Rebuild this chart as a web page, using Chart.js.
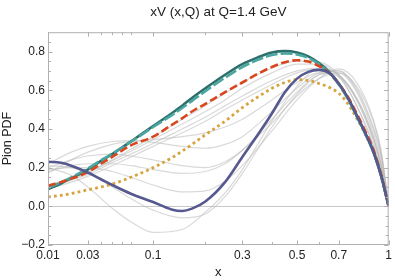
<!DOCTYPE html>
<html>
<head>
<meta charset="utf-8">
<script src="https://cdn.jsdelivr.net/npm/chart.js@4/dist/chart.umd.min.js"></script>
<style>
  body { margin: 0; background: #fff; }
</style>
</head>
<body>
<canvas id="myChart" width="395" height="280"></canvas>
<script>
// x grid for the highlighted curves
var mainX = [0.01, 0.015, 0.02, 0.03, 0.04, 0.05, 0.07, 0.1, 0.13, 0.15, 0.17, 0.2, 0.25, 0.3, 0.35,
             0.4, 0.45, 0.5, 0.55, 0.6, 0.65, 0.7, 0.75, 0.8, 0.85, 0.9, 0.95, 1];
var tealDark  = [0.088, 0.118, 0.145, 0.19, 0.235, 0.27, 0.335, 0.415, 0.48, 0.52, 0.56, 0.61, 0.68, 0.735, 0.77,
                 0.795, 0.802, 0.795, 0.775, 0.74, 0.695, 0.635, 0.56, 0.47, 0.38, 0.285, 0.16, 0];
var tealLight = [0.095, 0.124, 0.15, 0.195, 0.238, 0.272, 0.333, 0.41, 0.47, 0.508, 0.545, 0.595, 0.665, 0.72, 0.757,
                 0.782, 0.79, 0.785, 0.767, 0.735, 0.69, 0.63, 0.555, 0.465, 0.375, 0.28, 0.155, 0];
var redDash   = [0.106, 0.125, 0.143, 0.177, 0.22, 0.255, 0.315, 0.36, 0.42, 0.455, 0.49, 0.53, 0.59, 0.64, 0.685,
                 0.72, 0.745, 0.755, 0.748, 0.725, 0.69, 0.635, 0.565, 0.48, 0.39, 0.295, 0.165, 0];
var goldDot   = [0.048, 0.057, 0.066, 0.085, 0.1, 0.115, 0.15, 0.2, 0.25, 0.285, 0.32, 0.37, 0.44, 0.51, 0.565,
                 0.61, 0.64, 0.655, 0.65, 0.635, 0.615, 0.585, 0.53, 0.455, 0.375, 0.285, 0.16, 0];
var purple    = [0.23, 0.225, 0.21, 0.175, 0.14, 0.11, 0.065, 0.022, -0.016, -0.024, -0.012, 0.025, 0.125, 0.255, 0.37,
                 0.48, 0.59, 0.66, 0.695, 0.705, 0.69, 0.635, 0.56, 0.47, 0.38, 0.285, 0.16, 0];

// x grid for the grey replicas
var greyX = [0.01, 0.02, 0.03, 0.05, 0.07, 0.1, 0.15, 0.2, 0.25, 0.3, 0.4, 0.5, 0.6, 0.7, 0.8, 0.9, 0.95, 1];
var greys = [
    [0.20, 0.16, 0.10, -0.01, -0.08, -0.135, -0.12, -0.03, 0.07, 0.19, 0.44, 0.62, 0.71, 0.68, 0.55, 0.35, 0.21, 0],
    [0.21, 0.20, 0.17, 0.10, 0.04, -0.02, -0.06, -0.04, 0.05, 0.17, 0.41, 0.58, 0.68, 0.70, 0.60, 0.40, 0.26, 0],
    [0.19, 0.20, 0.20, 0.18, 0.15, 0.11, 0.075, 0.08, 0.13, 0.21, 0.39, 0.55, 0.66, 0.71, 0.64, 0.45, 0.29, 0],
    [0.18, 0.21, 0.22, 0.22, 0.21, 0.19, 0.17, 0.18, 0.22, 0.29, 0.45, 0.59, 0.68, 0.69, 0.59, 0.38, 0.24, 0],
    [0.20, 0.24, 0.26, 0.27, 0.26, 0.24, 0.21, 0.2, 0.23, 0.29, 0.43, 0.57, 0.66, 0.69, 0.62, 0.44, 0.28, 0],
    [0.22, 0.28, 0.31, 0.335, 0.34, 0.33, 0.31, 0.30, 0.32, 0.36, 0.49, 0.61, 0.69, 0.70, 0.61, 0.41, 0.27, 0],
    [0.17, 0.24, 0.28, 0.32, 0.335, 0.345, 0.36, 0.38, 0.41, 0.45, 0.55, 0.64, 0.69, 0.67, 0.56, 0.36, 0.22, 0],
    [0.10, 0.135, 0.165, 0.225, 0.27, 0.325, 0.40, 0.46, 0.52, 0.57, 0.65, 0.70, 0.715, 0.68, 0.55, 0.34, 0.2, 0],
    [0.09, 0.125, 0.155, 0.21, 0.255, 0.31, 0.38, 0.44, 0.50, 0.55, 0.63, 0.69, 0.71, 0.68, 0.56, 0.36, 0.21, 0],
    [0.11, 0.145, 0.175, 0.235, 0.285, 0.345, 0.425, 0.49, 0.55, 0.61, 0.69, 0.735, 0.735, 0.67, 0.52, 0.32, 0.18, 0],
    [0.10, 0.14, 0.175, 0.24, 0.295, 0.36, 0.45, 0.52, 0.585, 0.64, 0.715, 0.75, 0.745, 0.68, 0.52, 0.31, 0.18, 0]
];

var xTicks = [0.01, 0.03, 0.1, 0.3, 0.5, 0.7, 1];
var xTickLabels = ["0.01", "0.03", "0.1", "0.3", "0.5", "0.7", "1"];
var xMinor = [0.04, 0.05, 0.06, 0.07, 0.2, 0.4, 0.6];
var yTicks = [-0.2, 0, 0.2, 0.4, 0.6, 0.8];
var yMinor = [-0.15, -0.1, -0.05, 0.05, 0.1, 0.15, 0.25, 0.3, 0.35, 0.45, 0.5, 0.55, 0.65, 0.7, 0.75, 0.85];

var POW = 0.35;

// x axis that is stretched like x^0.35
class PowerScale extends Chart.LinearScale {
    getPixelForValue(v) {
        var a = Math.pow(this.min, POW), b = Math.pow(this.max, POW);
        return this.getPixelForDecimal((Math.pow(v, POW) - a) / (b - a));
    }
    getValueForPixel(p) {
        var a = Math.pow(this.min, POW), b = Math.pow(this.max, POW);
        return Math.pow(a + this.getDecimalForPixel(p) * (b - a), 1 / POW);
    }
}
PowerScale.id = "power";
PowerScale.defaults = {};
Chart.register(PowerScale);

function pts(xs, ys) {
    return xs.map(function (x, i) { return {x: x, y: ys[i]}; });
}

var datasets = [
    {data: pts(mainX, purple), borderColor: "#55598f", borderWidth: 2.6, order: 1},
    {data: pts(mainX, redDash), borderColor: "#d9461e", borderWidth: 2.6, borderDash: [8, 3.5], order: 2},
    {data: pts(mainX, tealLight), borderColor: "#4aa6a0", borderWidth: 2.6, borderDash: [12, 3], order: 3},
    {data: pts(mainX, tealDark), borderColor: "#2e6e6b", borderWidth: 2.6, order: 4},
    {data: pts(mainX, goldDot), borderColor: "#d6a33c", borderWidth: 2.8, borderDash: [2.8, 3.2], order: 5}
];
greys.forEach(function (g) {
    datasets.push({data: pts(greyX, g), borderColor: "rgba(185,185,185,0.55)", borderWidth: 1.2, order: 10});
});

var framePlugin = {
    id: "frame",
    afterDraw: function (chart) {
        var ctx = chart.ctx, a = chart.chartArea, x = chart.scales.x, y = chart.scales.y;
        ctx.save();
        ctx.strokeStyle = "#b0b0b0";
        ctx.lineWidth = 1;
        ctx.strokeRect(a.left + 0.5, a.top + 0.5, a.right - a.left - 1, a.bottom - a.top - 1);
        ctx.beginPath();
        function xt(v, len) {
            var p = Math.round(x.getPixelForValue(v)) + 0.5;
            ctx.moveTo(p, a.bottom); ctx.lineTo(p, a.bottom - len);
            ctx.moveTo(p, a.top); ctx.lineTo(p, a.top + len);
        }
        function yt(v, len) {
            var p = Math.round(y.getPixelForValue(v)) + 0.5;
            ctx.moveTo(a.left, p); ctx.lineTo(a.left + len, p);
            ctx.moveTo(a.right, p); ctx.lineTo(a.right - len, p);
        }
        xTicks.forEach(function (v) { xt(v, 4.5); });
        xMinor.forEach(function (v) { xt(v, 3); });
        yTicks.forEach(function (v) { yt(v, 4.5); });
        yMinor.forEach(function (v) { yt(v, 3); });
        ctx.stroke();
        ctx.restore();
    }
};

var font = "'Liberation Sans', Arial, sans-serif";

new Chart("myChart", {
    type: "line",
    data: {datasets: datasets},
    options: {
        responsive: false,
        animation: false,
        layout: {padding: {left: 0, right: 4, top: 0, bottom: 0}},
        elements: {
            point: {radius: 0},
            line: {fill: false, cubicInterpolationMode: "monotone", borderCapStyle: "butt"}
        },
        plugins: {
            legend: {display: false},
            tooltip: {enabled: false},
            title: {
                display: true,
                fullSize: false,
                text: "xV (x,Q) at Q=1.4 GeV",
                color: "#222",
                font: {family: font, size: 13.5, weight: "normal"},
                padding: {top: 4, bottom: 12}
            }
        },
        scales: {
            x: {
                type: "power",
                min: 0.01,
                max: 1,
                afterBuildTicks: function (s) { s.ticks = xTicks.map(function (v) { return {value: v}; }); },
                afterFit: function (s) { s.height = 35; },
                grid: {display: false, drawTicks: false},
                border: {display: false},
                ticks: {
                    autoSkip: false, maxRotation: 0, padding: 3, color: "#222",
                    font: {family: font, size: 12},
                    callback: function (v, i) { return xTickLabels[i]; }
                },
                title: {display: true, text: "x", color: "#222", font: {family: font, size: 13}, padding: 0}
            },
            y: {
                type: "linear",
                min: -0.2,
                max: 0.9,
                afterBuildTicks: function (s) { s.ticks = yTicks.map(function (v) { return {value: v}; }); },
                afterFit: function (s) { s.width = 48; },
                grid: {
                    drawTicks: false,
                    color: function (c) { return c.tick && c.tick.value === 0 ? "#c8c8c8" : "rgba(0,0,0,0)"; }
                },
                border: {display: false},
                ticks: {
                    padding: 3, color: "#222",
                    font: {family: font, size: 12},
                    callback: function (v) { return (v < 0 ? "\u2212" : "") + Math.abs(v).toFixed(1); }
                },
                title: {display: true, text: "Pion PDF", color: "#222", font: {family: font, size: 12.5}, padding: 0}
            }
        }
    },
    plugins: [framePlugin]
});
</script>
</body>
</html>
